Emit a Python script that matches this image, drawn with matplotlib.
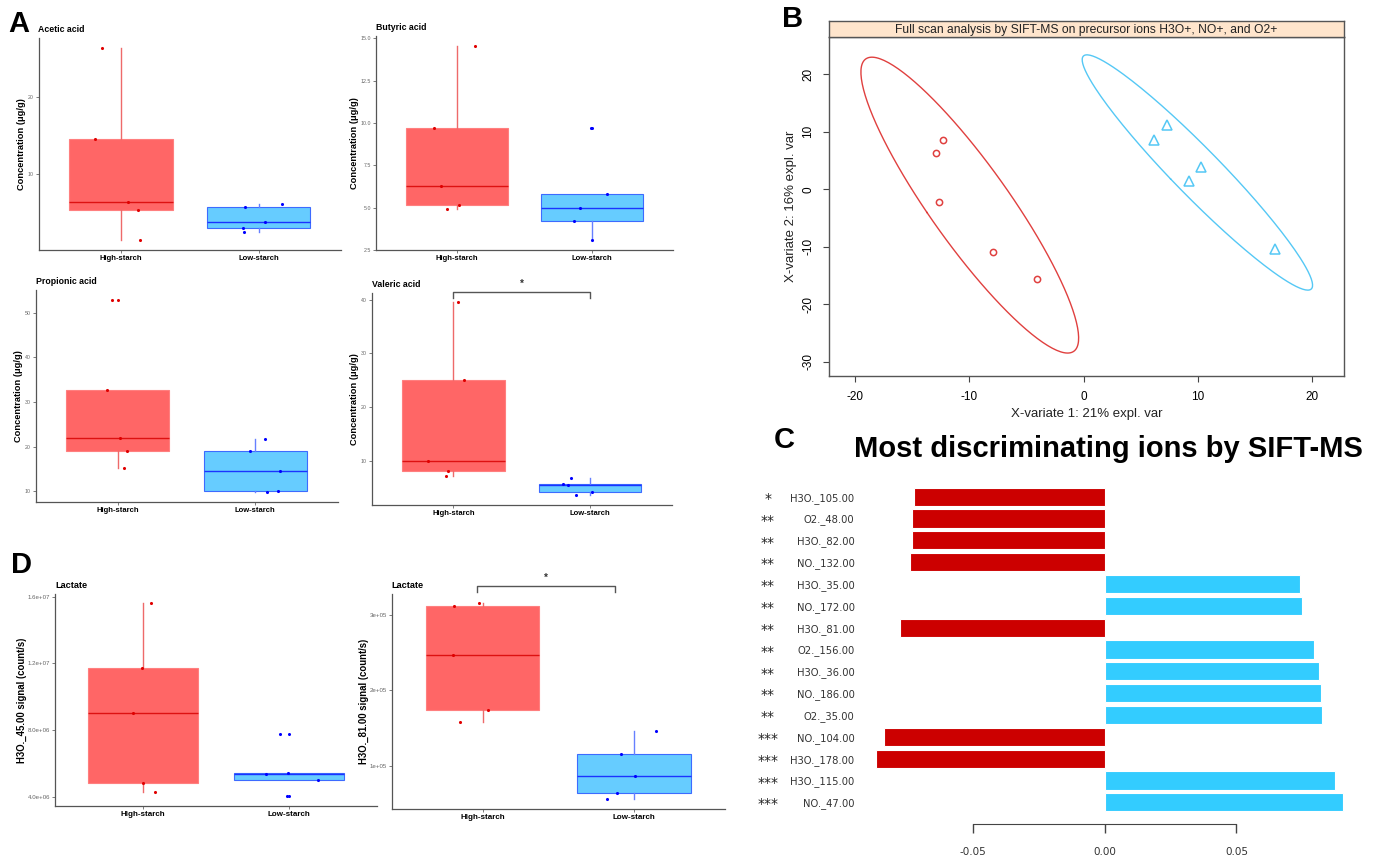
import numpy as np
import matplotlib.pyplot as plt
from matplotlib.transforms import blended_transform_factory

W, H = 1387, 860

groups = ['High-starch', 'Low-starch']

# panel A / D: values per group, with the jitter offsets seen in the picture
acetic_high = [26.3, 14.6, 6.4, 5.4, 1.5]
acetic_jit_high = [-0.135, -0.186, 0.05, 0.126, 0.138]
acetic_low = [5.8, 6.2, 3.1, 2.6, 3.8]
acetic_jit_low = [-0.10, 0.17, -0.11, -0.104, 0.05]

butyric_high = [14.57, 9.69, 6.26, 5.15, 4.93]
butyric_jit_high = [0.136, -0.17, -0.12, 0.012, -0.074]
butyric_low = [9.69, 5.8, 4.97, 4.24, 3.09]
butyric_jit_low = [-0.005, 0.11, -0.09, -0.13, 0.0]

propionic_high = [53.0, 32.6, 21.9, 19.1, 15.2]
propionic_jit_high = [-0.046, -0.078, 0.012, 0.066, 0.044]
propionic_low = [21.8, 19.0, 14.6, 9.7, 10.0]
propionic_jit_low = [0.075, -0.039, 0.18, 0.083, 0.17]

valeric_high = [39.5, 25.0, 10.0, 8.1, 7.2]
valeric_jit_high = [0.03, 0.08, -0.19, -0.037, -0.056]
valeric_low = [6.8, 5.7, 5.5, 4.2, 3.5]
valeric_jit_low = [-0.14, -0.195, -0.163, 0.017, -0.105]

lact45_high = [15.6e6, 11.72e6, 9.0e6, 4.84e6, 4.26e6]
lact45_jit_high = [0.057, -0.005, -0.066, 0.0, 0.08]
lact45_low = [7.78e6, 5.34e6, 5.44e6, 5.0e6, 4.02e6]
lact45_jit_low = [-0.064, -0.155, -0.011, 0.194, -0.014]

lact81_high = [3.155e5, 3.12e5, 2.47e5, 1.74e5, 1.58e5]
lact81_jit_high = [-0.024, -0.187, -0.193, 0.033, -0.149]
lact81_low = [1.457e5, 1.16e5, 0.86e5, 0.63e5, 0.55e5]
lact81_jit_low = [0.143, -0.086, 0.004, -0.11, -0.18]

# panel B: sPLS-DA scores
hs_x = [-12.3, -12.9, -12.7, -7.9, -4.06]
hs_y = [8.6, 6.3, -2.2, -10.9, -15.6]
ls_x = [7.3, 6.2, 10.3, 9.25, 16.75]
ls_y = [11.1, 8.6, 3.9, 1.4, -10.4]

# panel C: loadings
ions = ['H3O._105.00', 'O2._48.00', 'H3O._82.00', 'NO._132.00', 'H3O._35.00',
        'NO._172.00', 'H3O._81.00', 'O2._156.00', 'H3O._36.00', 'NO._186.00',
        'O2._35.00', 'NO._104.00', 'H3O._178.00', 'H3O._115.00', 'NO._47.00']
loadings = [-0.0725, -0.0733, -0.0733, -0.0738, 0.0742, 0.0749, -0.0779, 0.0793,
            0.0815, 0.0823, 0.0826, -0.0839, -0.0870, 0.0874, 0.0903]
signif = ['*', '**', '**', '**', '**', '**', '**', '**', '**', '**', '**',
          '***', '***', '***', '***']

plt.rcParams['font.family'] = ['Liberation Sans', 'DejaVu Sans']
plt.rcParams['axes.unicode_minus'] = False

fig = plt.figure(figsize=(W / 100, H / 100), dpi=100)


def px_axes(l, t, r, b):
    return fig.add_axes([l / W, 1 - b / H, (r - l) / W, (b - t) / H])


FILL = ['#FF6666', '#66CCFF']
EDGE = ['#FF7F7F', '#3D6BFF']
MED = ['#DD1111', '#1A33FF']
WHISK = ['#EE6A6A', '#6680FF']
PTS = ['#E00000', '#0000FF']


def box_panel(ax, high, low, jh, jl, title, ylabel, ticks, labels,
              tick_fs=3.8, lab_fs=5.5, ylab_fs=6.7, title_fs=6.3, ylpad=1.5):
    bp = ax.boxplot([high, low], positions=[1, 2], widths=0.75, patch_artist=True,
                    showcaps=False, whis=1.5,
                    flierprops=dict(marker='o', markersize=2.2, markeredgewidth=0))
    for k in range(2):
        bp['boxes'][k].set(facecolor=FILL[k], edgecolor=EDGE[k], linewidth=0.8)
        bp['medians'][k].set(color=MED[k], linewidth=1.0)
        bp['fliers'][k].set(markerfacecolor=PTS[k])
        for w in bp['whiskers'][2 * k:2 * k + 2]:
            w.set(color=WHISK[k], linewidth=1.0)
    for k, (vals, jit) in enumerate([(high, jh), (low, jl)]):
        ax.scatter(k + 1 + np.array(jit), vals, s=5, color=PTS[k], lw=0, zorder=3)
    allv = high + low
    lo, hi = min(allv), max(allv)
    pad = 0.05 * (hi - lo)
    ax.set_ylim(lo - pad, hi + pad)
    ax.set_xlim(0.4, 2.6)
    ax.set_xticks([1, 2])
    ax.set_xticklabels(groups, fontsize=lab_fs, fontweight='bold')
    ax.set_yticks(ticks)
    ax.set_yticklabels(labels, fontsize=tick_fs, color='#666666')
    ax.tick_params(length=2, width=0.6, color='#666666', pad=1.5)
    for s in ['top', 'right']:
        ax.spines[s].set_visible(False)
    for s in ['left', 'bottom']:
        ax.spines[s].set_color('#555555')
        ax.spines[s].set_linewidth(0.9)
    ax.set_ylabel(ylabel, fontsize=ylab_fs, fontweight='bold', labelpad=ylpad)
    ax.set_title(title, loc='left', fontsize=title_fs, fontweight='bold', pad=4)


def bracket(ax, x0, x1, y_top, y_tip, y_star):
    tr = blended_transform_factory(ax.transData, ax.transAxes)
    ax.plot([x0, x0, x1, x1], [y_tip, y_top, y_top, y_tip], color='#555555',
            lw=1.0, transform=tr, clip_on=False)
    ax.text((x0 + x1) / 2, y_star, '*', transform=tr, ha='center', va='center',
            fontsize=7, fontweight='bold', color='#333333')


# ---- panel A
ax = px_axes(38.5, 38, 341, 250)
box_panel(ax, acetic_high, acetic_low, acetic_jit_high, acetic_jit_low,
          'Acetic acid', 'Concentration (μg/g)', [10, 20], ['10', '20'])

ax = px_axes(376, 36, 673, 250)
t = [2.5, 5.0, 7.5, 10.0, 12.5, 15.0]
box_panel(ax, butyric_high, butyric_low, butyric_jit_high, butyric_jit_low,
          'Butyric acid', 'Concentration (μg/g)', t, ['%.1f' % v for v in t])

ax = px_axes(35.5, 290, 337.5, 502)
t = [10, 20, 30, 40, 50]
box_panel(ax, propionic_high, propionic_low, propionic_jit_high, propionic_jit_low,
          'Propionic acid', 'Concentration (μg/g)', t, [str(v) for v in t])

ax = px_axes(371.5, 292.7, 672, 505)
t = [10, 20, 30, 40]
box_panel(ax, valeric_high, valeric_low, valeric_jit_high, valeric_jit_low,
          'Valeric acid', 'Concentration (μg/g)', t, [str(v) for v in t])
bracket(ax, 1, 2, 1.005, 0.975, 1.04)

# ---- panel D
ax = px_axes(55, 593.7, 377, 806)
t = [4e6, 8e6, 1.2e7, 1.6e7]
box_panel(ax, lact45_high, lact45_low, lact45_jit_high, lact45_jit_low,
          'Lactate', 'H3O._45.00 signal (count/s)', t, ['%.1e' % v for v in t],
          tick_fs=4.4, lab_fs=5.8, ylab_fs=6.9, title_fs=6.6, ylpad=0.5)

ax = px_axes(391.7, 593.6, 725, 809.3)
t = [1e5, 2e5, 3e5]
box_panel(ax, lact81_high, lact81_low, lact81_jit_high, lact81_jit_low,
          'Lactate', 'H3O._81.00 signal (count/s)', t, ['%.0e' % v for v in t],
          tick_fs=4.4, lab_fs=5.8, ylab_fs=6.9, title_fs=6.6, ylpad=0.5)
bracket(ax, 0.962, 1.873, 1.037, 1.009, 1.075)


# ---- panel B
def ellipse(x, y, t=2.4477, n=200):
    x, y = np.asarray(x), np.asarray(y)
    cov = np.cov(x, y)
    vals, vecs = np.linalg.eigh(cov)
    th = np.linspace(0, 2 * np.pi, n)
    circ = np.vstack([np.cos(th), np.sin(th)]) * np.sqrt(vals)[:, None] * t
    pts = vecs @ circ
    return pts[0] + x.mean(), pts[1] + y.mean()


RED_B, BLUE_B = '#E0403F', '#55C8F5'
axB = px_axes(829, 37, 1344, 376)
ex, ey = ellipse(hs_x, hs_y)
axB.plot(ex, ey, color=RED_B, lw=1.0)
ex, ey = ellipse(ls_x, ls_y)
axB.plot(ex, ey, color=BLUE_B, lw=1.0)
axB.plot(hs_x, hs_y, 'o', mfc='none', mec=RED_B, ms=4.5, mew=1.1)
axB.plot(ls_x, ls_y, '^', mfc='none', mec=BLUE_B, ms=6.5, mew=1.1)
axB.set_xlim(-22.3, 22.8)
axB.set_ylim(-32.5, 26.5)
axB.set_xticks([-20, -10, 0, 10, 20])
axB.set_yticks([-30, -20, -10, 0, 10, 20])
axB.tick_params(direction='out', length=4.5, width=0.8, color='#444444', pad=6,
                labelsize=8.5)
for lab in axB.get_yticklabels():
    lab.set_rotation(90)
    lab.set_va('center')
for s in axB.spines.values():
    s.set_color('#555555')
    s.set_linewidth(1.0)
axB.set_xlabel('X-variate 1: 21% expl. var', fontsize=9.5, labelpad=4,
               color='#222222')
axB.set_ylabel('X-variate 2: 16% expl. var', fontsize=9.5, labelpad=4,
               color='#222222')

axS = px_axes(829, 21, 1344, 37)
axS.set_facecolor('#FFE5CC')
axS.set_xticks([])
axS.set_yticks([])
for s in axS.spines.values():
    s.set_color('#555555')
    s.set_linewidth(1.0)
axS.text(0.5, 0.45, 'Full scan analysis by SIFT-MS on precursor ions H3O+, NO+, and O2+',
         transform=axS.transAxes, ha='center', va='center', fontsize=8.7,
         color='#222222')

# ---- panel C
axC = px_axes(854.5, 485.8, 1354.9, 813.2)
ypos = np.arange(len(ions))
cols = ['#CC0000' if v < 0 else '#33CCFF' for v in loadings]
axC.barh(ypos, loadings, height=0.83, color=cols, edgecolor='white', lw=0.8)
axC.set_xlim(-0.095, 0.095)
axC.set_ylim(len(ions) - 0.5, -0.5)
axC.set_yticks(ypos)
axC.set_yticklabels(ions, fontsize=7.2, family='DejaVu Sans', color='#333333')
axC.tick_params(axis='y', length=0, pad=0)
for s in ['left', 'top', 'right']:
    axC.spines[s].set_visible(False)
axC.spines['bottom'].set_position(('outward', 8))
axC.spines['bottom'].set_bounds(-0.05, 0.05)
axC.spines['bottom'].set_color('#444444')
axC.set_xticks([-0.05, 0, 0.05])
axC.set_xticklabels(['-0.05', '0.00', '0.05'], fontsize=7.5, family='DejaVu Sans',
                    color='#333333')
axC.tick_params(axis='x', length=6.5, width=1.0, color='#444444', pad=10)
trC = blended_transform_factory(axC.transAxes, axC.transData)
for i, s in enumerate(signif):
    axC.text(-0.173, i + 0.1, s, transform=trC, ha='center', va='center',
             fontsize=10, family='DejaVu Sans', color='#222222')
fig.text(1108 / W, 1 - 449 / H, 'Most discriminating ions by SIFT-MS', ha='center',
         va='center', fontsize=21, fontweight='bold')

# ---- panel letters
for letter, x, y in [('A', 8, 10), ('B', 782, 5), ('C', 774, 426), ('D', 11, 551)]:
    fig.text(x / W, 1 - y / H, letter, ha='left', va='top', fontsize=21,
             fontweight='bold')

fig.savefig('out.png', dpi=100)
